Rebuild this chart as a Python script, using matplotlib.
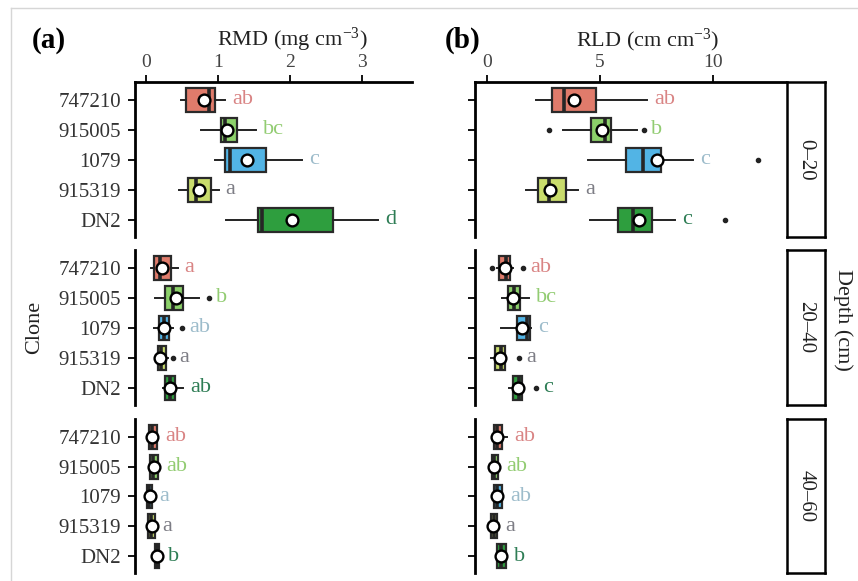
import matplotlib
matplotlib.use("Agg")
import matplotlib.pyplot as plt
from matplotlib.lines import Line2D

plt.rcParams["font.family"] = ["Liberation Serif", "DejaVu Serif"]
plt.rcParams["mathtext.fontset"] = "custom"
plt.rcParams["mathtext.rm"] = "Liberation Serif"
plt.rcParams["mathtext.default"] = "regular"

# ---------------------------------------------------------------- data
clones = ["747210", "915005", "1079", "915319", "DN2"]
depths = ["0\u201320", "20\u201340", "40\u201360"]

# RMD (mg cm-3); one inner list per depth, clones in the order above
rmd_whislo = [[0.49, 0.77, 0.96, 0.46, 1.11],
              [0.07, 0.13, 0.11, 0.15, 0.24],
              [0.03, 0.05, 0.00, 0.02, 0.10]]
rmd_q1 = [[0.56, 1.04, 1.10, 0.58, 1.56],
          [0.11, 0.26, 0.18, 0.17, 0.26],
          [0.04, 0.06, 0.01, 0.03, 0.12]]
rmd_med = [[0.88, 1.10, 1.17, 0.70, 1.61],
           [0.20, 0.38, 0.25, 0.21, 0.33],
           [0.08, 0.10, 0.04, 0.07, 0.15]]
rmd_q3 = [[0.96, 1.27, 1.67, 0.90, 2.60],
          [0.35, 0.52, 0.32, 0.28, 0.40],
          [0.15, 0.16, 0.08, 0.12, 0.18]]
rmd_whishi = [[1.10, 1.53, 2.17, 1.01, 3.22],
              [0.44, 0.74, 0.38, 0.30, 0.52],
              [0.17, 0.18, 0.09, 0.13, 0.21]]
rmd_mean = [[0.80, 1.13, 1.40, 0.73, 2.03],
            [0.22, 0.41, 0.25, 0.20, 0.33],
            [0.09, 0.11, 0.05, 0.08, 0.15]]
rmd_fliers = [[[], [], [], [], []],
              [[], [0.88], [0.50], [0.37], []],
              [[], [], [], [], []]]
rmd_letters = [["ab", "bc", "c", "a", "d"],
               ["a", "b", "ab", "a", "ab"],
               ["ab", "ab", "a", "a", "b"]]

# RLD (cm cm-3)
rld_whislo = [[2.17, 3.36, 4.48, 1.73, 4.57],
              [0.45, 0.66, 0.62, 0.18, 0.98],
              [0.28, 0.20, 0.28, 0.15, 0.42]]
rld_q1 = [[2.88, 4.60, 6.16, 2.27, 5.80],
          [0.53, 0.93, 1.33, 0.35, 1.15],
          [0.31, 0.22, 0.31, 0.18, 0.44]]
rld_med = [[3.41, 5.23, 6.92, 2.75, 6.47],
           [0.85, 1.20, 1.77, 0.60, 1.40],
           [0.45, 0.30, 0.45, 0.28, 0.62]]
rld_q3 = [[4.83, 5.50, 7.71, 3.50, 7.30],
          [1.02, 1.46, 1.91, 0.80, 1.55],
          [0.66, 0.49, 0.66, 0.44, 0.84]]
rld_whishi = [[7.10, 6.65, 9.13, 4.04, 8.34],
              [1.15, 1.86, 1.95, 0.85, 1.62],
              [0.89, 0.52, 0.70, 0.47, 0.86]]
rld_mean = [[3.86, 5.10, 7.52, 2.79, 6.74],
            [0.80, 1.15, 1.55, 0.58, 1.37],
            [0.44, 0.31, 0.44, 0.27, 0.62]]
rld_fliers = [[[], [2.75, 6.96], [12.0], [], [10.55]],
              [[0.22, 1.60], [], [], [1.42], [2.17]],
              [[], [], [], [], []]]
rld_letters = [["ab", "b", "c", "a", "c"],
               ["ab", "bc", "c", "a", "c"],
               ["ab", "ab", "ab", "a", "b"]]

# ---------------------------------------------------------------- style
box_colors = ["#E07B6B", "#8CD16A", "#52B4E5", "#C9DC6C", "#2E9E3E"]
letter_colors = ["#D98484", "#92CC72", "#9DBCCB", "#7D7D85", "#2E7D55"]

W, H = 858, 581


def fig_rect(x0, x1, y0, y1):
    """Pixel box (top-left origin) -> figure-fraction rect."""
    return [x0 / W, 1 - y1 / H, (x1 - x0) / W, (y1 - y0) / H]


def draw_panel(ax, d, xlim, whislo, q1, med, q3, whishi, mean, fliers, letters):
    stats = []
    for i in range(len(clones)):
        stats.append(dict(whislo=whislo[d][i], q1=q1[d][i], med=med[d][i],
                          q3=q3[d][i], whishi=whishi[d][i], mean=mean[d][i],
                          fliers=fliers[d][i]))
    pos = list(range(1, len(clones) + 1))
    bp = ax.bxp(stats, positions=pos, widths=0.8, orientation="horizontal",
                patch_artist=True, showmeans=True, showcaps=False,
                boxprops=dict(edgecolor="#2a2a2a", linewidth=1.6),
                whiskerprops=dict(color="#222222", linewidth=1.4),
                medianprops=dict(color="#262626", linewidth=2.6),
                meanprops=dict(marker="o", markerfacecolor="white",
                               markeredgecolor="black", markersize=8.5,
                               markeredgewidth=1.7),
                flierprops=dict(marker="o", markerfacecolor="#222222",
                                markeredgecolor="#222222", markersize=3))
    for patch, c in zip(bp["boxes"], box_colors):
        patch.set_facecolor(c)

    # letters sit after the whisker, or after an outlier lying close to it
    near = 0.06 * (xlim[1] - xlim[0])
    for i, p in enumerate(pos):
        xmax = max([whishi[d][i]] + [f for f in fliers[d][i]
                                     if f - whishi[d][i] < near])
        ax.annotate(letters[d][i], (xmax, p), xytext=(5, 0),
                    textcoords="offset points", ha="left", va="center",
                    fontsize=16, color=letter_colors[i])

    ax.set_xlim(*xlim)
    ax.set_ylim(5.57, 0.4)
    ax.set_yticks(pos)
    for s in ["right", "bottom", "top"]:
        ax.spines[s].set_visible(False)
    ax.spines["left"].set_linewidth(2)
    ax.tick_params(axis="y", length=5, width=1.3, pad=5, labelsize=15,
                   labelcolor="#333333")
    ax.tick_params(axis="x", bottom=False, labelbottom=False)
    ax.patch.set_alpha(0)


fig = plt.figure(figsize=(W / 100, H / 100), dpi=100)

rows = [(82, 237), (250, 405), (419, 573)]
panels = [
    dict(x=(135, 412), xlim=(-0.153, 3.694), ticks=[0, 1, 2, 3],
         data=(rmd_whislo, rmd_q1, rmd_med, rmd_q3, rmd_whishi, rmd_mean,
               rmd_fliers, rmd_letters)),
    dict(x=(475, 785), xlim=(-0.545, 13.2), ticks=[0, 5, 10],
         data=(rld_whislo, rld_q1, rld_med, rld_q3, rld_whishi, rld_mean,
               rld_fliers, rld_letters)),
]

for j, pnl in enumerate(panels):
    for d, (y0, y1) in enumerate(rows):
        ax = fig.add_axes(fig_rect(pnl["x"][0], pnl["x"][1], y0, y1))
        draw_panel(ax, d, pnl["xlim"], *pnl["data"])
        ax.set_xticks(pnl["ticks"])
        ax.set_yticklabels(clones if j == 0 else [])
        if d == 0:
            ax.spines["top"].set_visible(True)
            ax.spines["top"].set_linewidth(2)
            ax.tick_params(axis="x", top=True, labeltop=True, length=5,
                           width=1.3, pad=3, labelsize=14,
                           labelcolor="#444444")

# depth strips
for d, (y0, y1) in enumerate(rows):
    sax = fig.add_axes(fig_rect(787, 825, y0, y1))
    sax.set_xticks([])
    sax.set_yticks([])
    for s in sax.spines.values():
        s.set_linewidth(1.8)
    sax.text(0.5, 0.5, depths[d], rotation=-90, ha="center", va="center",
             fontsize=15, color="#222222", transform=sax.transAxes)

# titles and labels
fig.text(32 / W, 1 - 40 / H, "(a)", fontsize=21, fontweight="bold",
         ha="left", va="center")
fig.text(445 / W, 1 - 40 / H, "(b)", fontsize=21, fontweight="bold",
         ha="left", va="center")
fig.text(292 / W, 1 - 40 / H, r"RMD (mg cm$^{-3}$)", fontsize=16,
         ha="center", va="center", color="#222222")
fig.text(648 / W, 1 - 40 / H, r"RLD (cm cm$^{-3}$)", fontsize=16,
         ha="center", va="center", color="#222222")
fig.text(35 / W, 1 - 327 / H, "Clone", rotation=90, fontsize=16,
         ha="center", va="center", color="#222222")
fig.text(843 / W, 1 - 320 / H, "Depth (cm)", rotation=-90, fontsize=16,
         ha="center", va="center", color="#222222")

# faint frame of the original figure
fig.add_artist(Line2D([11 / W, 1], [1 - 8 / H, 1 - 8 / H], color="#d6d6d6",
                      lw=1, transform=fig.transFigure))
fig.add_artist(Line2D([11 / W, 11 / W], [0, 1 - 8 / H], color="#d6d6d6",
                      lw=1, transform=fig.transFigure))

fig.savefig("out.png", dpi=100)
